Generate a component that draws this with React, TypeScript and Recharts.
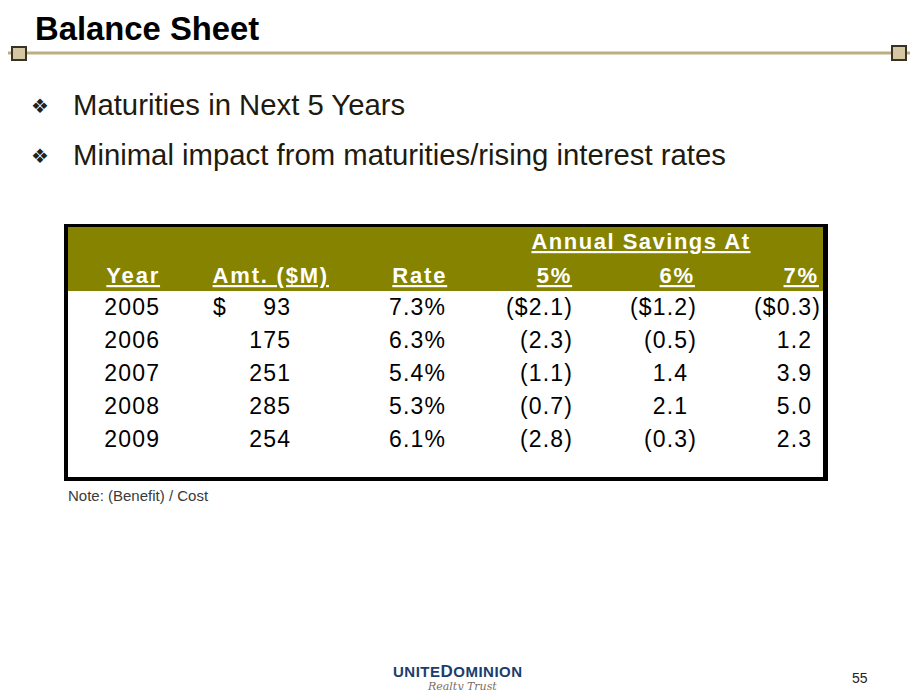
import React from 'react';
import { ScatterChart, Scatter, XAxis, YAxis } from 'recharts';

const TITLE = 'Balance Sheet';
const BULLETS = ['Maturities in Next 5 Years', 'Minimal impact from maturities/rising interest rates'];
const NOTE = 'Note: (Benefit) / Cost';
const PAGE = '55';

const YEARS = ['2005', '2006', '2007', '2008', '2009'];
const AMOUNTS = [93, 175, 251, 285, 254];
const RATES = [7.3, 6.3, 5.4, 5.3, 6.1];
const SAVINGS_5 = [-2.1, -2.3, -1.1, -0.7, -2.8];
const SAVINGS_6 = [-1.2, -0.5, 1.4, 2.1, -0.3];
const SAVINGS_7 = [-0.3, 1.2, 3.9, 5.0, 2.3];
const HEADERS = ['Year', 'Amt. ($M)', 'Rate', '5%', '6%', '7%'];
const GROUP_LABEL = 'Annual Savings At';

// layout: column anchors (right edges) in column units, domain [1, 6]
const COL_X = [1, 1.991, 3.163, 4.124, 5.062, 6];
const HEAD_X = [1.008, 2.286, 3.18, 4.125, 5.054, 5.992];
const GROUP_X = 4.646;

const FONT = 'Arial, "Liberation Sans", Helvetica, sans-serif';
const OLIVE = '#868300';
const TAN = '#BDAE82';

const fmtSaving = (v: number, i: number) =>
  v < 0 ? `(${i === 0 ? '$' : ''}${Math.abs(v).toFixed(1)})` : v.toFixed(1);

const columns = [
  YEARS.map((y) => ({ text: y, hang: false })),
  AMOUNTS.map((a) => ({ text: String(a), hang: false })),
  RATES.map((r) => ({ text: `${r.toFixed(1)}%`, hang: false })),
  SAVINGS_5.map((v, i) => ({ text: fmtSaving(v, i), hang: v >= 0 })),
  SAVINGS_6.map((v, i) => ({ text: fmtSaving(v, i), hang: v >= 0 })),
  SAVINGS_7.map((v, i) => ({ text: fmtSaving(v, i), hang: v >= 0 })),
];

const seriesData = columns.map((col, c) =>
  col.map((cell, i) => ({
    x: COL_X[c],
    year: YEARS[i],
    text: cell.text,
    hang: cell.hang,
    dollar: c === 1 && i === 0,
  })),
);

const CellText = (props: any) => {
  const { cx, cy, payload } = props;
  if (cx == null || cy == null) return null;
  return (
    <g>
      <text
        x={cx + 1.2}
        y={cy + 8}
        textAnchor="end"
        fontFamily={FONT}
        fontSize={23}
        letterSpacing={1.2}
        fill="#000"
      >
        {payload.text}
        {payload.hang && <tspan fill="transparent">)</tspan>}
      </text>
      {payload.dollar && (
        <text x={cx - 77} y={cy + 8} fontFamily={FONT} fontSize={23} fill="#000">
          $
        </text>
      )}
    </g>
  );
};

const HeaderTick = (props: any) => {
  const { x, y, payload } = props;
  const idx = HEAD_X.indexOf(payload.value);
  const label = HEADERS[idx] ?? '';
  return (
    <text
      x={x}
      y={y - 7.5}
      textAnchor="end"
      fontFamily={FONT}
      fontWeight="bold"
      fontSize={22}
      letterSpacing={1.8}
      fill="#fff"
      style={{ textDecoration: 'underline', textDecorationThickness: '2.5px', textUnderlineOffset: '4px' }}
    >
      {label}
    </text>
  );
};

// plot geometry of the table chart (used for the group heading overlay)
const PLOT_LEFT = 95;
const PLOT_W = 764 - 95 - 8;
const groupX = PLOT_LEFT + ((GROUP_X - 1) / 5) * PLOT_W;

export default function App() {
  return (
    <div style={{ position: 'relative', width: 918, height: 698, margin: -8, background: '#fff', overflow: 'hidden' }}>
      <svg width={918} height={698} style={{ position: 'absolute', left: 0, top: 0 }}>
        <text x={35} y={40} fontFamily={FONT} fontWeight="bold" fontSize={32.8} fill="#000">
          {TITLE}
        </text>
        <line x1={4} x2={913} y1={53} y2={53} stroke={TAN} strokeWidth={3} />
        <rect x={12} y={47} width={14} height={13} fill="#D6C7A3" stroke="#3a3222" strokeWidth={2} />
        <rect x={892} y={46} width={14} height={14} fill="#D6C7A3" stroke="#3a3222" strokeWidth={2} />
        {BULLETS.map((b, i) => (
          <g key={b}>
            <text x={31} y={113 + i * 50} fontFamily="DejaVu Sans" fontSize={20} fill="#2a2010">
              ❖
            </text>
            <text x={73} y={115 + i * 50} fontFamily={FONT} fontSize={29.3} fill="#201a0f">
              {b}
            </text>
          </g>
        ))}
        <text x={68} y={501} fontFamily={FONT} fontSize={15} fill="#3a3a3a">
          {NOTE}
        </text>
        <text x={393} y={677} fontFamily={FONT} fontWeight="bold" fontSize={15} letterSpacing={0.5} fill="#1b3d6e">
          UNITE<tspan fontSize={17}>D</tspan>OMINION
        </text>
        <text x={428} y={690} fontFamily='"DejaVu Serif", serif' fontStyle="italic" fontSize={11} fill="#7a6e66">
          Realty Trust
        </text>
        <text x={852} y={683} fontFamily={FONT} fontSize={14} fill="#222">
          {PAGE}
        </text>
      </svg>

      <div
        style={{
          position: 'absolute',
          left: 64,
          top: 224,
          width: 764,
          height: 257,
          boxSizing: 'border-box',
          borderTop: '3px solid #000',
          borderLeft: '4px solid #000',
          borderRight: '5px solid #000',
          borderBottom: '4px solid #000',
        }}
      >
        <div style={{ position: 'absolute', left: 0, top: 0, right: 0, height: 63.5, background: OLIVE }} />
      </div>

      <div style={{ position: 'absolute', left: 64, top: 224 }}>
        <ScatterChart width={764} height={257} margin={{ top: 32.5, right: 8, bottom: 25.5, left: PLOT_LEFT }}>
          <XAxis
            type="number"
            dataKey="x"
            orientation="top"
            domain={[1, 6]}
            ticks={HEAD_X}
            interval={0}
            tick={<HeaderTick />}
            tickSize={0}
            tickMargin={0}
            tickLine={false}
            axisLine={false}
            height={34}
          />
          <YAxis type="category" dataKey="year" allowDuplicatedCategory={false} reversed hide />
          {seriesData.map((d, c) => (
            <Scatter key={c} data={d} shape={<CellText />} isAnimationActive={false} />
          ))}
        </ScatterChart>
        <svg width={764} height={60} style={{ position: 'absolute', left: 0, top: 0 }}>
          <text
            x={groupX}
            y={25}
            textAnchor="middle"
            fontFamily={FONT}
            fontWeight="bold"
            fontSize={22}
            letterSpacing={1.5}
            fill="#fff"
            style={{ textDecoration: 'underline', textDecorationThickness: '2.5px', textUnderlineOffset: '4px' }}
          >
            {GROUP_LABEL}
          </text>
        </svg>
      </div>
    </div>
  );
}
